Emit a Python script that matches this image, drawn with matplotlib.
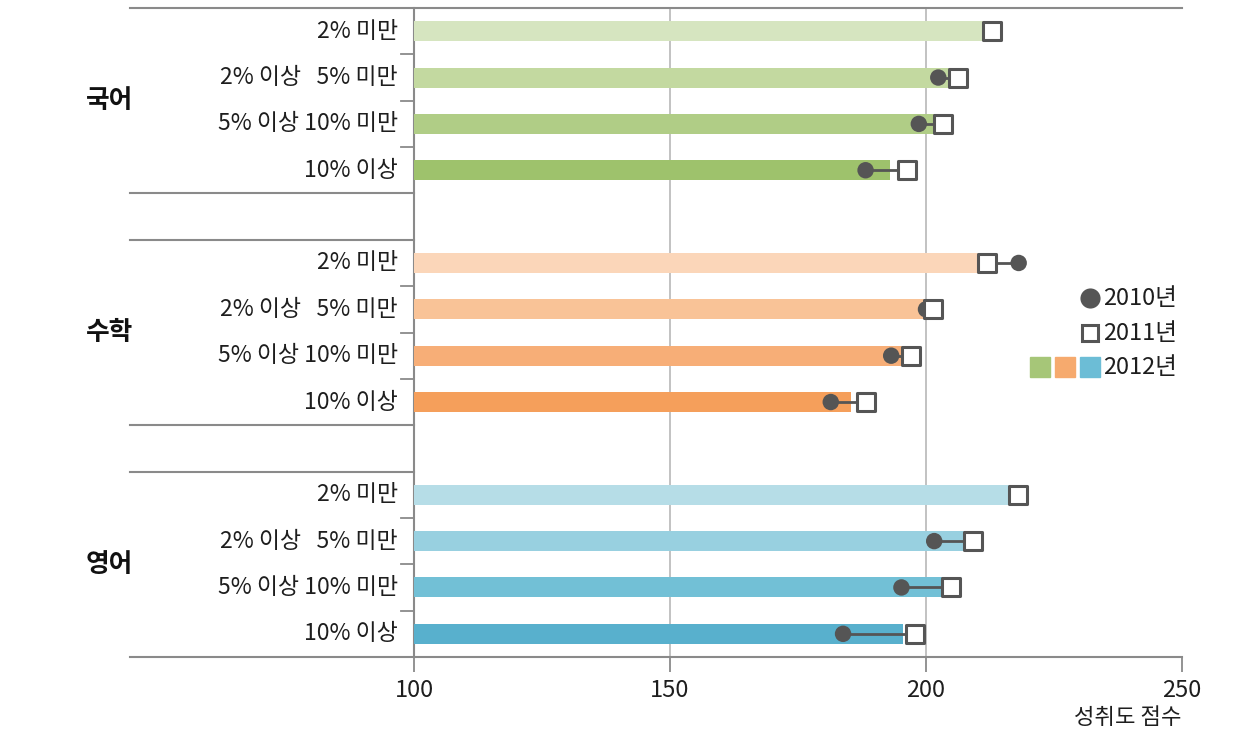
import matplotlib
matplotlib.use("Agg")
import matplotlib.pyplot as plt
from matplotlib.transforms import blended_transform_factory
from matplotlib.patches import Rectangle
from matplotlib.lines import Line2D

plt.rcParams['font.family'] = ['Noto Sans CJK KR', 'DejaVu Sans']

subjects = ["국어", "수학", "영어"]
levels = ["2% 미만", "2% 이상   5% 미만", "5% 이상 10% 미만", "10% 이상"]

score_2010 = {
    "국어": [212.6, 202.4, 198.6, 188.2],
    "수학": [218.1, 200.0, 193.2, 181.4],
    "영어": [218.0, 201.6, 195.2, 183.8],
}
score_2011 = {
    "국어": [212.9, 206.3, 203.4, 196.2],
    "수학": [212.0, 201.3, 197.1, 188.3],
    "영어": [218.0, 209.1, 204.9, 197.9],
}
score_2012 = {
    "국어": [211.3, 205.9, 202.9, 193.0],
    "수학": [210.1, 202.0, 197.0, 185.4],
    "영어": [216.9, 210.1, 206.5, 195.6],
}

bar_colors = {
    "국어": ["#d6e5c0", "#c3d9a0", "#b0cd86", "#9ec26c"],
    "수학": ["#fbd6b9", "#f9c397", "#f7ae77", "#f59f5b"],
    "영어": ["#b6dde7", "#98d0e0", "#72c0d6", "#58b0cd"],
}
legend_colors = ["#a6c678", "#f6aa6e", "#6cbdd6"]

W, H = 1240, 733
fig = plt.figure(figsize=(W / 100, H / 100), dpi=100)
L, R, T, B = 414, 1182, 8, 657
ax = fig.add_axes([L / W, 1 - B / H, (R - L) / W, (B - T) / H])

dark = "#555555"
struct = "#8a8a8a"
txt = "#1e1e1e"

ax.set_xlim(100, 250)
nrows = 14
ax.set_ylim(nrows - 0.5, -0.5)

for s in ["top", "right", "bottom", "left"]:
    ax.spines[s].set_visible(False)

# gridlines
for gx in [150, 200]:
    ax.axvline(gx, color="#b8b8b8", lw=1.2, zorder=0)

trans = blended_transform_factory(ax.transAxes, ax.transData)
left_ext = (130 - L) / (R - L)
tick_ext = (401 - L) / (R - L)

# top & bottom full lines
for yy in [-0.5, nrows - 0.5]:
    ax.add_line(Line2D([left_ext, 1], [yy, yy], transform=trans, color=struct,
                       lw=1.5, clip_on=False, zorder=1))
# left axis line
ax.add_line(Line2D([0, 0], [-0.5, nrows - 0.5], transform=trans, color=struct,
                   lw=1.5, clip_on=False, zorder=1))

bar_h = 0.43
for gi, subj in enumerate(subjects):
    base = gi * 5
    if gi > 0:
        for yy in [base - 1.5, base - 0.5]:
            ax.add_line(Line2D([left_ext, 0], [yy, yy], transform=trans, color=struct,
                               lw=1.5, clip_on=False, zorder=1))
    for k in range(1, 4):
        yy = base + k - 0.5
        ax.add_line(Line2D([tick_ext, 0], [yy, yy], transform=trans, color=struct,
                           lw=1.3, clip_on=False, zorder=1))
    ys = [base + i for i in range(4)]
    ax.barh(ys, [v - 100 for v in score_2012[subj]], left=100, height=bar_h,
            color=bar_colors[subj], zorder=2)
    ax.hlines(ys, score_2010[subj], score_2011[subj], color=dark, lw=2, zorder=3)
    ax.scatter(score_2010[subj], ys, s=140, color=dark, zorder=4, edgecolors="none")
    ax.scatter(score_2011[subj], ys, s=165, marker="s", facecolor="white",
               edgecolor=dark, linewidths=2.2, zorder=5)
    for i, lab in enumerate(levels):
        ax.text(-0.021, base + i, lab, transform=trans, ha="right", va="center",
                fontsize=16.5, color=txt)
    ax.text(-0.397, base + 1.5, subj, transform=trans, ha="center", va="center",
            fontsize=18.5, fontweight="bold", color="#111111")

ax.set_yticks([])
ax.set_xticks([100, 150, 200, 250])
ax.set_xticklabels(["100", "150", "200", "250"])
ax.tick_params(axis="x", length=11, width=1.3, color=struct, labelsize=17,
               pad=5, labelcolor=txt)
fig.text(R / W, 1 - 718 / H, "성취도 점수", ha="right", va="center",
         fontsize=16, color=txt)

# legend
lx = 1103 / W
fig.text(lx, 1 - 298 / H, "2010년", ha="left", va="center", fontsize=17, color=txt)
fig.text(lx, 1 - 333 / H, "2011년", ha="left", va="center", fontsize=17, color=txt)
fig.text(lx, 1 - 367 / H, "2012년", ha="left", va="center", fontsize=17, color=txt)
fig.add_artist(Line2D([1090 / W], [1 - 298 / H], marker="o", markersize=14.5,
                      color=dark, markeredgewidth=0, transform=fig.transFigure))
fig.add_artist(Line2D([1090 / W], [1 - 333 / H], marker="s", markersize=11,
                      markerfacecolor="white", markeredgecolor=dark,
                      markeredgewidth=2.2, transform=fig.transFigure))
for j, c in enumerate(legend_colors):
    x0 = 1030 + j * 25
    fig.patches.append(Rectangle((x0 / W, 1 - 377 / H), 20 / W, 20 / H,
                                 transform=fig.transFigure, color=c))

fig.savefig("out.png", dpi=100)
